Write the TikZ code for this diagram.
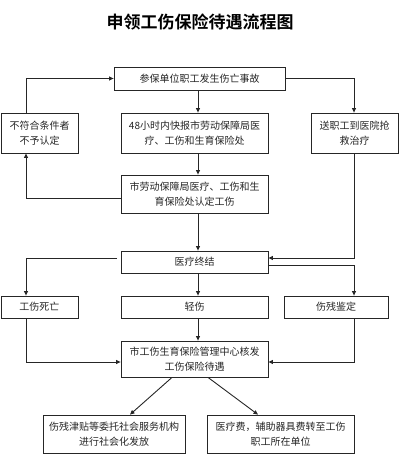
\documentclass[tikz,border=0pt]{standalone}
\usepackage{fontspec}
\setmainfont{Noto Sans CJK SC}
\newfontfamily\titlefont{Noto Sans CJK SC}[BoldFont={* Bold}]
\usetikzlibrary{arrows.meta,calc}
\begin{document}
\begin{tikzpicture}[x=1pt,y=-1pt,
  bx/.style={draw=black!85,line width=0.8pt,fill=white,inner sep=0pt,align=center,
    font=\fontsize{10}{15}\selectfont,text=black!85},
  arr/.style={draw=black!85,line width=0.9pt,-{Triangle[length=4.5pt,width=4pt]}},
  ln/.style={draw=black!85,line width=0.9pt}]
\useasboundingbox (0,0) rectangle (400,455);
\node[font=\titlefont\bfseries\fontsize{17}{20}\selectfont] (title) at (200,22) {申领工伤保险待遇流程图};
\node[bx,minimum width=171pt,minimum height=23pt] (b1) at (199.5,78.5) {参保单位职工发生伤亡事故};
\node[bx,minimum width=147pt,minimum height=40pt] (b2) at (194.5,133) {48小时内快报市劳动保障局医\\疗、工伤和生育保险处};
\node[bx,minimum width=77pt,minimum height=40pt] (L) at (39.5,133) {不符合条件者\\不予认定};
\node[bx,minimum width=87pt,minimum height=40pt] (R) at (354.5,133) {送职工到医院抢\\救治疗};
\node[bx,minimum width=147pt,minimum height=38pt] (b3) at (194.5,194) {市劳动保障局医疗、工伤和生\\育保险处认定工伤};
\node[bx,minimum width=147pt,minimum height=22pt] (b4) at (194.5,262) {医疗终结};
\node[bx,minimum width=77pt,minimum height=22pt] (d) at (39.5,307) {工伤死亡};
\node[bx,minimum width=147pt,minimum height=22pt] (q) at (194.5,307) {轻伤};
\node[bx,minimum width=104pt,minimum height=22pt] (s) at (336,307) {伤残鉴定};
\node[bx,minimum width=147pt,minimum height=36pt] (b5) at (194.5,359) {市工伤生育保险管理中心核发\\工伤保险待遇};
\node[bx,minimum width=142pt,minimum height=38pt] (b6) at (114,434) {伤残津贴等委托社会服务机构\\进行社会化发放};
\node[bx,minimum width=147pt,minimum height=38pt] (b7) at (280.5,434) {医疗费，辅助器具费转至工伤\\职工所在单位};
\coordinate (xc) at (198,0);
\coordinate (xl) at (26,0);
\coordinate (xr) at (354,0);
% center column
\draw[arr] (b1.south -| xc) -- (b2.north -| xc);
\draw[arr] (b2.south -| xc) -- (b3.north -| xc);
\draw[arr] (b3.south -| xc) -- (b4.north -| xc);
\draw[arr] (b4.south -| xc) -- (q.north -| xc);
\draw[arr] (q.south -| xc) -- (b5.north -| xc);
% left loop
\draw[arr] (L.north -| xl) |- (b1.west);
\draw[arr] (b3.west |- 0,198) -| (L.south -| xl);
% right
\draw[arr] (b1.east) -| (R.north -| xr);
\draw[arr] (R.south -| xr) |- (b4.east |- 0,258);
\draw[arr] (b4.east |- 0,265) -| (s.north -| xr);
% left branch
\coordinate (lstart) at (117,258);
\draw[arr] (lstart) -| (d.north -| xl);
\draw[arr] (d.south -| xl) |- (b5.west |- 0,362);
\draw[arr] (s.south -| xr) |- (b5.east |- 0,362);
% bottom
\draw[arr] (b5.south -| 172,0) -- (b6.north -| 130,0);
\draw[arr] (b5.south -| 208,0) -- (b7.north -| 258,0);
\end{tikzpicture}
\end{document}
